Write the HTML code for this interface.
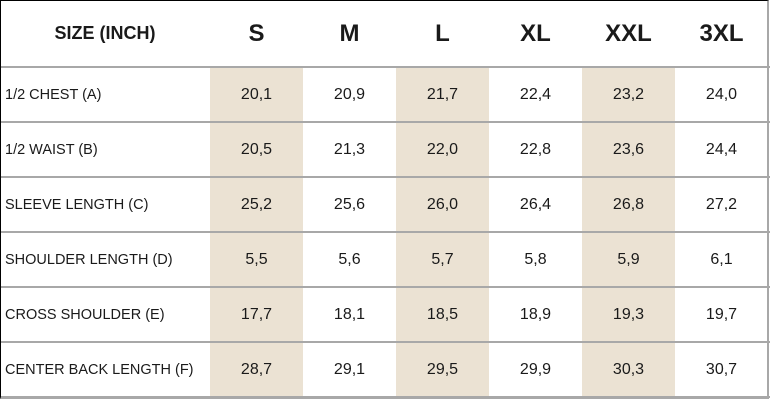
<!DOCTYPE html>
<html><head><meta charset="utf-8"><style>
body{margin:0;width:770px;height:400px;background:#fff;font-family:"Liberation Sans",sans-serif;color:#1a1a1a;overflow:hidden}
#t{position:absolute;left:0;top:0;width:770px;height:400px}
.c{position:absolute;display:flex;align-items:center;justify-content:center;box-sizing:border-box}
.sh{background:#ebe2d3}
.hl{position:absolute;left:0;width:770px;height:2px;background:#a8a8a8}
</style></head><body>
<div id="t"></div>
<script>
const sizes=['S','M','L','XL','XXL','3XL'];
const rowsLabels=['1/2 CHEST (A)','1/2 WAIST (B)','SLEEVE LENGTH (C)','SHOULDER LENGTH (D)','CROSS SHOULDER (E)','CENTER BACK LENGTH (F)'];
const values=[
['20,1','20,9','21,7','22,4','23,2','24,0'],
['20,5','21,3','22,0','22,8','23,6','24,4'],
['25,2','25,6','26,0','26,4','26,8','27,2'],
['5,5','5,6','5,7','5,8','5,9','6,1'],
['17,7','18,1','18,5','18,9','19,3','19,7'],
['28,7','29,1','29,5','29,9','30,3','30,7']];
const t=document.getElementById('t');
const colX=i=>210+i*93, rowY=r=>67+r*55;
function cell(x,y,w,h,txt,css,name){const d=document.createElement('div');d.className='c';d.style.cssText=`left:${x}px;top:${y}px;width:${w}px;height:${h}px;${css}`;d.textContent=txt;


t.appendChild(d);return d;}
sizes.forEach((s,i)=>{if(i%2==0){const d=cell(colX(i),67,93,331,'','','shaded-column');d.classList.add('sh');}});
cell(0,0,210,67,'SIZE (INCH)','font-weight:bold;font-size:18px;','header-size-inch');
sizes.forEach((s,i)=>cell(colX(i),0,93,67,s,'font-weight:bold;font-size:24px;','header-'+s.toLowerCase()));
rowsLabels.forEach((l,r)=>{
 cell(5,rowY(r),205,55,l,'justify-content:flex-start;font-size:14.5px;','row-label');
 values[r].forEach((v,i)=>cell(colX(i),rowY(r),93,55,v,'font-size:16px;','value-cell'));
});
for(let r=0;r<=6;r++){const h=document.createElement('div');h.className='hl';h.style.top=(rowY(r)-1)+'px';


t.appendChild(h);}
const b=document.createElement('div');b.style.cssText='position:absolute;left:0;top:0;width:766px;height:396px;border-left:1px solid #000;border-top:1px solid #000;border-right:2px solid #a8a8a8;border-bottom:2px solid #a8a8a8;';


t.appendChild(b);
</script>
</body></html>
